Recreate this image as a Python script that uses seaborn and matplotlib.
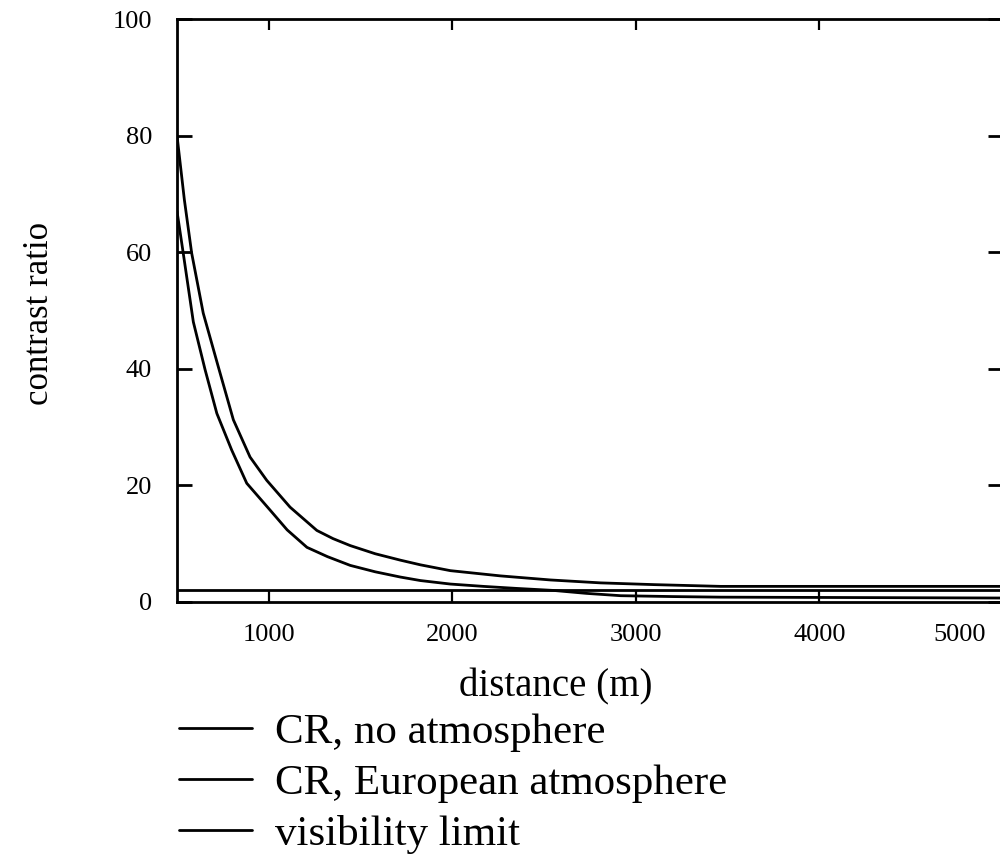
import matplotlib
matplotlib.use("Agg")
import matplotlib.pyplot as plt
from matplotlib.transforms import ScaledTranslation
import numpy as np
import pandas as pd
import seaborn as sns

# ---- data ----
dist_no_atm = [500, 540, 580, 643, 725, 807, 898, 989, 1116, 1262, 1350, 1444, 1580,
               1717, 1826, 1989, 2262, 2535, 2808, 3100, 3462, 4000, 5000]
cr_no_atm = [80, 69, 59.8, 49.5, 40.3, 31.2, 24.8, 20.8, 16.2, 12.2, 10.8, 9.6, 8.2,
             7.1, 6.3, 5.3, 4.4, 3.7, 3.2, 2.9, 2.6, 2.6, 2.6]

dist_eur = [500, 534, 589, 653, 717, 798, 880, 1007, 1100, 1208, 1320, 1444, 1580,
            1717, 1826, 1989, 2169, 2350, 2553, 2730, 2917, 3200, 3462, 4000, 5000]
cr_eur = [67, 59.8, 48.0, 39.8, 32.3, 26, 20.3, 15.7, 12.3, 9.3, 7.7, 6.2, 5.1,
          4.2, 3.6, 3.0, 2.6, 2.25, 1.9, 1.4, 1.0, 0.85, 0.75, 0.7, 0.6]

dist_vis = [500, 5000]
cr_vis = [2, 2]

labels = ["CR, no atmosphere", "CR, European atmosphere", "visibility limit"]
x_ticks = [1000, 2000, 3000, 4000, 5000]
y_ticks = [0, 20, 40, 60, 80, 100]

sns.set_style("white")
plt.rcParams["font.family"] = ["Liberation Serif", "DejaVu Serif"]
plt.rcParams["text.color"] = "black"
plt.rcParams["axes.labelcolor"] = "black"

fig = plt.figure(figsize=(10, 8.65), dpi=100)
ax = fig.add_axes([0.177, 0.3046, 0.826, 0.6734])

series = [(dist_no_atm, cr_no_atm), (dist_eur, cr_eur), (dist_vis, cr_vis)]
for (xs, ys), lab in zip(series, labels):
    df = pd.DataFrame({"distance": xs, "cr": ys})
    sns.lineplot(data=df, x="distance", y="cr", ax=ax, color="black",
                 linewidth=2.0, estimator=None, sort=False, label=lab)

ax.set_xlim(500, 5000)
ax.set_ylim(0, 100)
ax.set_xticks(x_ticks)
ax.set_xticklabels([str(t) for t in x_ticks])
ax.set_yticks(y_ticks)
ax.set_yticklabels([str(t) for t in y_ticks])

for s in ax.spines.values():
    s.set_visible(True)
    s.set_linewidth(2)
    s.set_color("black")

ax.tick_params(axis="x", direction="in", top=True, bottom=True, length=8,
               width=1.6, labelsize=19, pad=16, colors="black")
ax.tick_params(axis="y", direction="in", left=True, right=True, length=11,
               width=2, labelsize=19, pad=18, colors="black")

# keep the last x tick label inside the picture, like the reference
last_lbl = ax.xaxis.get_major_ticks()[-1].label1
last_lbl.set_horizontalalignment("right")
last_lbl.set_transform(last_lbl.get_transform()
                       + ScaledTranslation(-12 / 72, 0, fig.dpi_scale_trans))

ax.set_xlabel("distance (m)", fontsize=28, va="center", color="black")
ax.xaxis.set_label_coords(0.458, -0.147)
ax.set_ylabel("contrast ratio", fontsize=25, va="center", color="black")
ax.yaxis.set_label_coords(-0.166, 0.495)

leg = ax.legend(loc="upper left", bbox_to_anchor=(0.179, 1 - 713 / 865),
                bbox_transform=fig.transFigure, frameon=False, fontsize=31,
                handlelength=1.7, handletextpad=0.52, labelspacing=0.27,
                borderpad=0, borderaxespad=0)
for t in leg.get_texts():
    t.set_color("black")

fig.savefig("out.png", dpi=100, facecolor="white")
